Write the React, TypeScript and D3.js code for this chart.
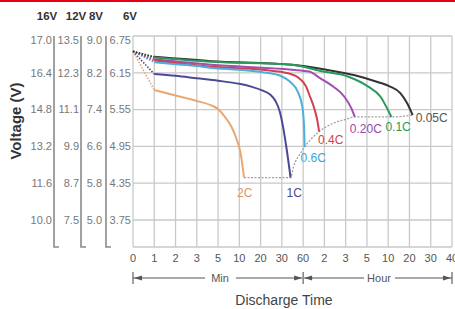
import React from 'react';
import * as d3 from 'd3';

// column headers and the voltage labels for each pack size
const packHeaders = ['16V', '12V', '8V', '6V'];
const volts16 = ['17.0', '16.4', '14.8', '13.2', '11.6', '10.0'];
const volts12 = ['13.5', '12.3', '11.1', '9.9', '8.7', '7.5'];
const volts8 = ['9.0', '8.2', '7.4', '6.6', '5.8', '5.0'];
const volts6 = [6.75, 6.15, 5.55, 4.95, 4.35, 3.75];

// time axis (ticks are evenly spaced slots, not a real time scale)
const timeTicks = ['0', '1', '2', '3', '5', '10', '20', '30', '60', '2', '3', '5', '10', '20', '30', '40'];

const startVolt = 6.5;

// [slot, volts on the 6V scale]
const rates = ['2C', '1C', '0.6C', '0.4C', '0.20C', '0.1C', '0.05C'];
const curve2C: [number, number][] = [[1, 5.87], [2, 5.78], [3, 5.69], [3.68, 5.62], [4, 5.56], [4.3, 5.44], [4.63, 5.27], [4.89, 5.05], [5.06, 4.84], [5.22, 4.44]];
const curve1C: [number, number][] = [[1, 6.13], [2, 6.1], [3, 6.06], [4, 6.02], [5, 5.97], [5.6, 5.92], [6.1, 5.86], [6.43, 5.8], [6.7, 5.69], [6.9, 5.52], [7.05, 5.28], [7.21, 4.94], [7.41, 4.44]];
const curve06C: [number, number][] = [[1, 6.32], [2, 6.29], [3, 6.26], [3.68, 6.23], [5, 6.2], [6.1, 6.16], [7.0, 6.09], [7.4, 6.0], [7.75, 5.84], [7.96, 5.6], [8.04, 5.3], [8.07, 4.94]];
const curve04C: [number, number][] = [[1, 6.35], [3.68, 6.25], [6.1, 6.2], [7.35, 6.14], [7.81, 6.06], [8.15, 5.92], [8.28, 5.8], [8.55, 5.54], [8.68, 5.35], [8.75, 5.19]];
const curve02C: [number, number][] = [[1, 6.37], [3.68, 6.28], [7.48, 6.2], [8.28, 6.17], [8.81, 6.06], [9.44, 5.92], [9.94, 5.76], [10.27, 5.57], [10.43, 5.43]];
const curve01C: [number, number][] = [[1, 6.4], [3.68, 6.33], [7.48, 6.28], [8.81, 6.18], [10.1, 6.09], [11.08, 5.92], [11.64, 5.76], [11.95, 5.57], [12.15, 5.43]];
const curve005C: [number, number][] = [[1, 6.41], [3.68, 6.34], [7.48, 6.28], [9.1, 6.2], [10.43, 6.11], [11.5, 6.0], [12.07, 5.93], [12.57, 5.82], [12.9, 5.65], [13.15, 5.46]];

// end-of-discharge dotted line
const endLine: [number, number][] = [[5.22, 4.44], [7.41, 4.44], [7.55, 4.62], [7.88, 4.84], [8.07, 4.94], [8.75, 5.19], [9.3, 5.31], [10.0, 5.39], [10.43, 5.43], [12.15, 5.43], [13.15, 5.46]];

const curves = [curve2C, curve1C, curve06C, curve04C, curve02C, curve01C, curve005C];
const lineColors = ['#e8a874', '#4b4996', '#4bb0da', '#d2404f', '#a04fae', '#2a9a5c', '#333333'];
const labelColors = ['#d9996a', '#4b4996', '#3ea3d2', '#d2404f', '#9a4aa8', '#2a9a5c', '#555555'];
// label offsets from each curve's end point
const labelOffsets = [[-7, 15], [-4, 15], [-4, 11], [-1, 8], [-5, 12], [-6, 10], [3, 3]];

const FONT = 'Liberation Sans, Arial, Helvetica, sans-serif';

const App = () => {
  const width = 455;
  const height = 309;
  const left = 133, right = 452, top = 36, bottom = 247;

  const x = d3.scaleLinear().domain([0, timeTicks.length - 1]).range([left, right]);
  const y = d3.scaleLinear().domain([3.75, 6.75]).range([220, top]);

  const line = d3.line<[number, number]>()
    .x(d => x(d[0]))
    .y(d => y(d[1]))
    .curve(d3.curveMonotoneX);

  const straight = d3.line<[number, number]>().x(d => x(d[0])).y(d => y(d[1]));

  const colLabels = [volts16, volts12, volts8, volts6.map(v => v.toFixed(2))];
  const colRight = [52, 79, 102, 131];
  const bracketX = [54, 81, 106];
  const headerX = [47, 76, 96, 130];

  const arrowY = 278;
  const arrowHead = (xp: number, dir: number) =>
    `M${xp},${arrowY} L${xp - dir * 8},${arrowY - 2.5} L${xp - dir * 8},${arrowY + 2.5} Z`;

  return (
    <svg width={width} height={height} style={{ position: 'absolute', left: 0, top: 0, background: '#fff' }} fontFamily={FONT}>
      <rect x={0} y={0} width={width} height={height} fill="#fff" />
      <rect x={0} y={0} width={width} height={2} fill="#e60012" />

      {/* grid */}
      <g stroke="#c9c9c9" strokeWidth={1.3} fill="none">
        {timeTicks.map((_, i) => (
          <line key={'v' + i} x1={x(i)} x2={x(i)} y1={top} y2={bottom} />
        ))}
        {volts6.map(v => (
          <line key={'h' + v} x1={left} x2={right} y1={y(v)} y2={y(v)} />
        ))}
        <line x1={left} x2={right} y1={bottom} y2={bottom} />
      </g>

      {/* headers */}
      {packHeaders.map((h, i) => (
        <text key={h} x={headerX[i]} y={20} textAnchor="middle" fontSize={11.5} fontWeight="bold" fill="#333">{h}</text>
      ))}

      {/* voltage columns */}
      {colLabels.map((col, c) => (
        <g key={'c' + c}>
          {col.map((t, i) => (
            <text key={t + i} x={colRight[c]} y={Math.max(y(volts6[i]), 40)} dy="0.35em" textAnchor="end" fontSize={11} fill="#777">{t}</text>
          ))}
        </g>
      ))}
      {bracketX.map(bx => (
        <path key={bx} d={`M${bx},${top} L${bx},${bottom} L${bx + 5},${bottom}`} fill="none" stroke="#8a8a8a" strokeWidth={1.6} />
      ))}

      <text transform="translate(21,121) rotate(-90)" textAnchor="middle" fontSize={15} fontWeight="bold" fill="#333">Voltage (V)</text>

      {/* x tick labels */}
      {timeTicks.map((t, i) => (
        <text key={'t' + i} x={x(i)} y={258} dy="0.35em" textAnchor="middle" fontSize={11} fill="#555">{t}</text>
      ))}

      {/* Min / Hour arrows */}
      <g stroke="#555" strokeWidth={1.1}>
        <line x1={left} x2={205} y1={arrowY} y2={arrowY} />
        <line x1={236} x2={x(8) - 1} y1={arrowY} y2={arrowY} />
        <line x1={x(8) + 1} x2={364} y1={arrowY} y2={arrowY} />
        <line x1={395} x2={right} y1={arrowY} y2={arrowY} />
        <line x1={left} x2={left} y1={arrowY - 6} y2={arrowY + 6} />
        <line x1={x(8)} x2={x(8)} y1={arrowY - 6} y2={arrowY + 6} />
        <line x1={right} x2={right} y1={arrowY - 6} y2={arrowY + 6} />
      </g>
      <g fill="#555">
        <path d={arrowHead(left + 1, -1)} />
        <path d={arrowHead(x(8) - 1, 1)} />
        <path d={arrowHead(x(8) + 1, -1)} />
        <path d={arrowHead(right - 1, 1)} />
      </g>
      <text x={220} y={arrowY} dy="0.35em" textAnchor="middle" fontSize={11} fill="#555">Min</text>
      <text x={379} y={arrowY} dy="0.35em" textAnchor="middle" fontSize={11} fill="#555">Hour</text>
      <text x={284} y={300} dy="0.35em" textAnchor="middle" fontSize={14} fill="#444">Discharge Time</text>

      {/* dotted start segments */}
      {curves.map((c, i) => (
        <path key={'s' + i} d={straight([[0, startVolt], c[0]]) || ''} fill="none" stroke={lineColors[i]} strokeWidth={1.6} strokeDasharray="1.5,1.5" />
      ))}

      {/* end-of-discharge line */}
      <path d={line(endLine) || ''} fill="none" stroke="#a0a0a0" strokeWidth={1.3} strokeDasharray="2,1.5" />

      {/* discharge curves, lowest rate drawn first */}
      {curves.map((c, i) => ({ c, i })).reverse().map(({ c, i }) => (
        <path key={'c' + i} d={line(c) || ''} fill="none" stroke={lineColors[i]} strokeWidth={2} />
      ))}

      {/* rate labels */}
      {curves.map((c, i) => {
        const end = c[c.length - 1];
        return (
          <text key={'l' + i} x={x(end[0]) + labelOffsets[i][0]} y={y(end[1]) + labelOffsets[i][1]} dy="0.35em" fontSize={12} fill={labelColors[i]}>{rates[i]}</text>
        );
      })}
    </svg>
  );
};

export default App;
